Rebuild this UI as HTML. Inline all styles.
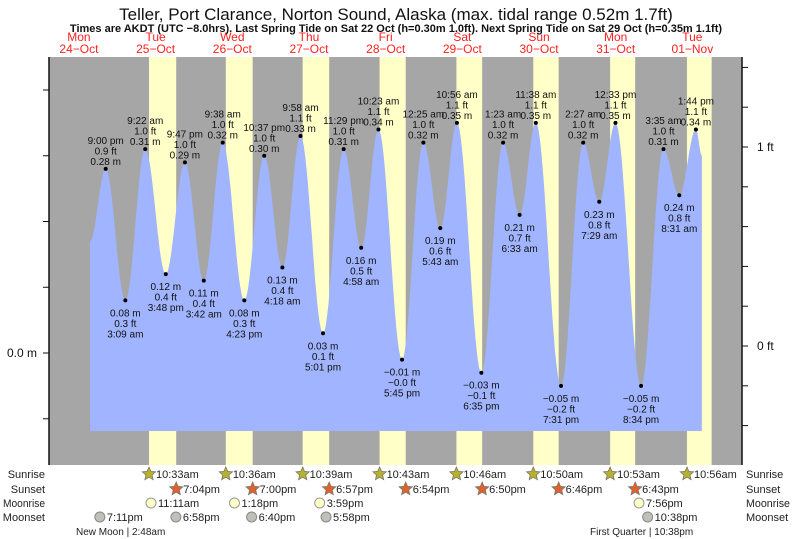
<!DOCTYPE html>
<html><head><meta charset="utf-8">
<style>
body{margin:0;background:#fff;}
svg{display:block;font-family:"Liberation Sans",sans-serif;}
</style></head>
<body>
<svg id="chart" width="793" height="539" viewBox="0 0 793 539" xmlns="http://www.w3.org/2000/svg">
<text x="396" y="20" text-anchor="middle" font-size="17" fill="#111">Teller, Port Clarance, Norton Sound, Alaska (max. tidal range 0.52m 1.7ft)</text>
<text x="396" y="32" text-anchor="middle" font-size="11" font-weight="bold" fill="#111">Times are AKDT (UTC −8.0hrs). Last Spring Tide on Sat 22 Oct (h=0.30m 1.0ft). Next Spring Tide on Sat 29 Oct (h=0.35m 1.1ft)</text>
<g id="g-day"></g>
<rect x="49" y="57" width="693" height="408" fill="#a6a6a6"/>
<g id="g-sun"></g>
<path id="tide-area" fill="#a0b4ff"/>
<g id="g-ext"></g>
<line x1="49" y1="57" x2="49" y2="465" stroke="#111" stroke-width="1.5"/>
<line x1="742" y1="57" x2="742" y2="465" stroke="#111" stroke-width="1.5"/>
<g id="g-axis"></g>
<g font-size="11" fill="#222">
<text x="45" y="478" text-anchor="end">Sunrise</text>
<text x="45" y="493" text-anchor="end">Sunset</text>
<text x="45" y="507" text-anchor="end" textLength="42" lengthAdjust="spacingAndGlyphs">Moonrise</text>
<text x="45" y="521" text-anchor="end">Moonset</text>
<text x="746" y="478">Sunrise</text>
<text x="746" y="493">Sunset</text>
<text x="746" y="507" textLength="44" lengthAdjust="spacingAndGlyphs">Moonrise</text>
<text x="746" y="521">Moonset</text>
</g>
<g id="g-astro"></g>
<text x="76" y="535" font-size="10" fill="#222">New Moon | 2:48am</text>
<text x="590" y="535" font-size="10" fill="#222">First Quarter | 10:38pm</text>
</svg>
<script>
// times in hours since 24-Oct 00:00
const tideTimes=[16.1,21.0,27.15,33.37,39.8,45.78,51.7,57.63,64.38,70.62,76.3,81.97,89.02,95.48,100.97,106.38,113.75,120.42,125.72,130.93,138.58,145.38,150.55,155.63,163.52,170.45,175.48,180.55,188.57,195.58,200.52,205.73,207.6];
const tideHeights=[0.17,0.28,0.08,0.31,0.12,0.29,0.11,0.32,0.08,0.30,0.13,0.33,0.03,0.31,0.16,0.34,-0.01,0.32,0.19,0.35,-0.03,0.32,0.21,0.35,-0.05,0.32,0.23,0.35,-0.05,0.31,0.24,0.34,0.30];
const tideFt=["","0.9","0.3","1.0","0.4","1.0","0.4","1.0","0.3","1.0","0.4","1.1","0.1","1.0","0.5","1.1","−0.0","1.0","0.6","1.1","−0.1","1.0","0.7","1.1","−0.2","1.0","0.8","1.1","−0.2","1.0","0.8","1.1",""];
const tideLabels=["","9:00 pm","3:09 am","9:22 am","3:48 pm","9:47 pm","3:42 am","9:38 am","4:23 pm","10:37 pm","4:18 am","9:58 am","5:01 pm","11:29 pm","4:58 am","10:23 am","5:45 pm","12:25 am","5:43 am","10:56 am","6:35 pm","1:23 am","6:33 am","11:38 am","7:31 pm","2:27 am","7:29 am","12:33 pm","8:34 pm","3:35 am","8:31 am","1:44 pm",""];
const dayNames=["Mon","Tue","Wed","Thu","Fri","Sat","Sun","Mon","Tue"];
const dayDates=["24−Oct","25−Oct","26−Oct","27−Oct","28−Oct","29−Oct","30−Oct","31−Oct","01−Nov"];
const sunriseTimes=[34.55,58.6,82.65,106.72,130.77,154.83,178.88,202.93];
const sunsetTimes=[43.07,67.0,90.95,114.9,138.83,162.77,186.72,210.65];
const sunriseLabels=["10:33am","10:36am","10:39am","10:43am","10:46am","10:50am","10:53am","10:56am"];
const sunsetLabels=["7:04pm","7:00pm","6:57pm","6:54pm","6:50pm","6:46pm","6:43pm",""];
const moonriseTimes=[35.18,61.3,87.98,187.93];
const moonriseLabels=["11:11am","1:18pm","3:59pm","7:56pm"];
const moonsetTimes=[19.18,42.97,66.67,89.97,190.63];
const moonsetLabels=["7:11pm","6:58pm","6:40pm","5:58pm","10:38pm"];
const leftTicks=[-0.1,0,0.1,0.2,0.3,0.4];
const rightTicksFt=[-0.4,-0.2,0,0.2,0.4,0.6,0.8,1,1.2,1.4];

const NS="http://www.w3.org/2000/svg";
const X=t=>38.6+t*3.195;
const Y=h=>353-h*657.5;
const YF=f=>346-f*199;
function mk(tag,parent,attrs,txt){const e=document.createElementNS(NS,tag);for(const k in attrs)e.setAttribute(k,attrs[k]);if(txt!==undefined)e.textContent=txt;parent.appendChild(e);return e;}
const gDay=document.getElementById('g-day'),gSun=document.getElementById('g-sun'),gExt=document.getElementById('g-ext'),gAx=document.getElementById('g-axis'),gA=document.getElementById('g-astro');

dayNames.forEach((d,i)=>{const cx=X(i*24+12)+2;
 let t=mk('text',gDay,{x:cx,y:41,'text-anchor':'middle','font-size':12,fill:'#ff2020'},d);
 
 
 t=mk('text',gDay,{x:cx,y:53,'text-anchor':'middle','font-size':12,fill:'#ff2020'},dayDates[i]);
 
 });

sunriseTimes.forEach((s,i)=>{const x1=X(s),x2=Math.min(X(sunsetTimes[i]),742);
 const r=mk('rect',gSun,{x:x1,y:57,width:x2-x1,height:408,fill:'#ffffc8'});
 
 });

let d=`M${X(tideTimes[0])},431 L${X(tideTimes[0])},${Y(tideHeights[0])}`;
for(let i=0;i<tideTimes.length-1;i++){const t0=tideTimes[i],t1=tideTimes[i+1],h0=tideHeights[i],h1=tideHeights[i+1];
 for(let k=1;k<=20;k++){const f=k/20;const h=h0+(h1-h0)*(1-Math.cos(Math.PI*f))/2;d+=` L${X(t0+(t1-t0)*f).toFixed(1)},${Y(h).toFixed(1)}`;}}
d+=` L${X(tideTimes[tideTimes.length-1])},431 Z`;
document.getElementById('tide-area').setAttribute('d',d);

for(let i=1;i<tideTimes.length-1;i++){const x=X(tideTimes[i]),y=Y(tideHeights[i]);const hi=tideHeights[i]>tideHeights[i-1];
 const c=mk('circle',gExt,{cx:x,cy:y,r:2,fill:'#000'});
 
 
 const m=(tideHeights[i]<0?'−':'')+Math.abs(tideHeights[i]).toFixed(2)+' m';
 const lines=hi?[tideLabels[i],tideFt[i]+' ft',m]:[m,tideFt[i]+' ft',tideLabels[i]];
 const base=hi?y-25:y+16;
 lines.forEach((s,j)=>{const t=mk('text',gExt,{x:x,y:base+j*10.5,'text-anchor':'middle','font-size':10,fill:'#111'},s);
  
  });}

leftTicks.forEach(v=>{const l=mk('line',gAx,{x1:43,x2:49,y1:Y(v),y2:Y(v),stroke:'#111'});
 
 });
let lt=mk('text',gAx,{x:37,y:Y(0)+4,'text-anchor':'end','font-size':12,fill:'#111'},'0.0 m');


rightTicksFt.forEach(v=>{const y=YF(v);if(y<58||y>464)return;const l=mk('line',gAx,{x1:742,x2:748,y1:y,y2:y,stroke:'#111'});
 
 
 if(v===0||v===1){const t=mk('text',gAx,{x:757,y:y+4,'font-size':12,fill:'#111'},v+' ft');
  
  }});

function star(x,y,fill,name){let p='';for(let k=0;k<10;k++){const r=k%2?3.2:7;const a=-Math.PI/2+k*Math.PI/5;p+=(k?' ':'')+(x+r*Math.cos(a)).toFixed(1)+','+(y+r*Math.sin(a)).toFixed(1);}
 const s=mk('polygon',gA,{points:p,fill:fill,stroke:'#776',"stroke-width":0.8});
 
 }
function txt(x,y,s,name){const t=mk('text',gA,{x:x,y:y,'font-size':11,fill:'#222'},s);
 
 }
sunriseTimes.forEach((s,i)=>{const x=X(s);star(x,474,'#b8b030','sunrise-icon');txt(x+7,478,sunriseLabels[i],'sunrise-time');});
sunsetTimes.forEach((s,i)=>{if(!sunsetLabels[i])return;const x=X(s);star(x,489,'#e06030','sunset-icon');txt(x+7,493,sunsetLabels[i],'sunset-time');});
moonriseTimes.forEach((s,i)=>{const x=X(s);const c=mk('circle',gA,{cx:x,cy:503,r:5,fill:'#ffffc8',stroke:'#999'});
 
 
 txt(x+7,507,moonriseLabels[i],'moonrise-time');});
moonsetTimes.forEach((s,i)=>{const x=X(s);const c=mk('circle',gA,{cx:x,cy:517,r:5,fill:'#c0c0b8',stroke:'#888'});
 
 
 txt(x+7,521,moonsetLabels[i],'moonset-time');});
</script>
</body></html>
